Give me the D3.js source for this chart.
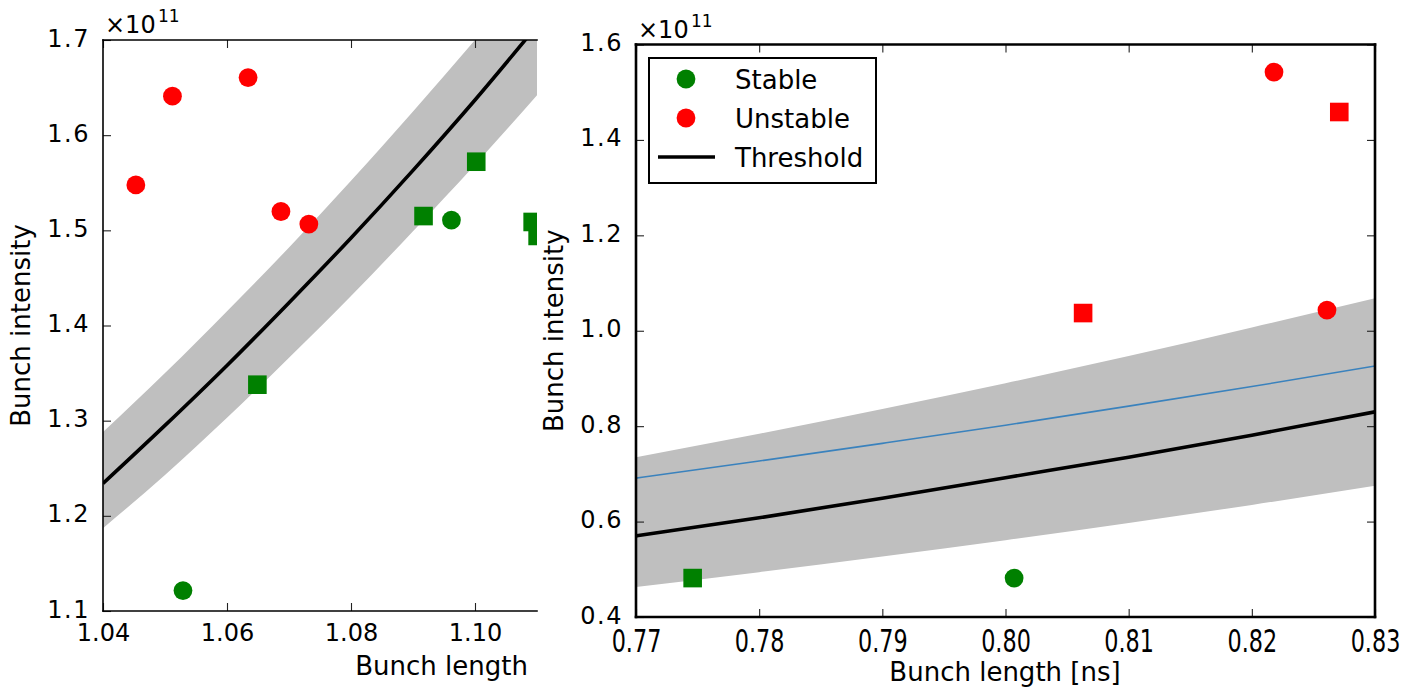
<!DOCTYPE html>
<html>
<head>
<meta charset="utf-8">
<script src="https://cdn.jsdelivr.net/npm/d3@7"></script>
<style>
  body { margin: 0; background: #fff; }
  text { font-family: "DejaVu Sans", sans-serif; fill: #000; }
</style>
</head>
<body>
<svg id="chart" width="1408" height="689"></svg>
<script>
// ---------- Left panel: intensity vs. bunch length ----------
const leftXTicks = [1.04, 1.06, 1.08, 1.10];
const leftYTicks = [1.1, 1.2, 1.3, 1.4, 1.5, 1.6, 1.7];
const leftStableCircles = [{x: 1.0529, y: 1.1215}, {x: 1.0962, y: 1.5108}];
const leftStableSquares = [
  {x: 1.0649, y: 1.3378}, {x: 1.0917, y: 1.5150}, {x: 1.1002, y: 1.5721},
  {x: 1.1093, y: 1.5088}, {x: 1.1101, y: 1.4941}
];
const leftUnstableCircles = [
  {x: 1.0453, y: 1.5477}, {x: 1.0512, y: 1.6410}, {x: 1.0634, y: 1.6605},
  {x: 1.0687, y: 1.5198}, {x: 1.0732, y: 1.5066}
];
const leftLength    = [1.04, 1.05, 1.06, 1.07, 1.08, 1.09, 1.10, 1.11];
const leftThreshold = [1.234, 1.295, 1.358, 1.424, 1.492, 1.563, 1.637, 1.715];
const leftUpper     = [1.288, 1.350, 1.415, 1.482, 1.552, 1.625, 1.700, 1.778];
const leftLower     = [1.187, 1.243, 1.303, 1.366, 1.431, 1.499, 1.569, 1.642];

// ---------- Right panel: intensity vs. bunch length [ns] ----------
const rightXTicks = [0.77, 0.78, 0.79, 0.80, 0.81, 0.82, 0.83];
const rightYTicks = [0.4, 0.6, 0.8, 1.0, 1.2, 1.4, 1.6];
const rightStableCircles = [{x: 0.8007, y: 0.4816}];
const rightStableSquares = [{x: 0.7746, y: 0.4816}];
const rightUnstableCircles = [{x: 0.8218, y: 1.5423}, {x: 0.8261, y: 1.0434}];
const rightUnstableSquares = [{x: 0.8063, y: 1.0371}, {x: 0.8271, y: 1.4585}];
const rightLength    = [0.77, 0.78, 0.79, 0.80, 0.81, 0.82, 0.83];
const rightThreshold = [0.570, 0.608, 0.649, 0.692, 0.735, 0.781, 0.830];
const rightModel     = [0.691, 0.727, 0.764, 0.802, 0.842, 0.883, 0.926];
const rightUpper     = [0.735, 0.784, 0.836, 0.890, 0.947, 1.007, 1.068];
const rightLower     = [0.463, 0.494, 0.527, 0.561, 0.597, 0.635, 0.675];

const legendLabels = ["Stable", "Unstable", "Threshold"];

const GREEN = "#008000", RED = "#ff0000", BAND = "#bfbfbf", MODEL = "#3a82bd";

const svg = d3.select("#chart");

function drawPanel(cfg) {
  const x = d3.scaleLinear().domain(cfg.xDomain).range([cfg.left, cfg.right]);
  const y = d3.scaleLinear().domain(cfg.yDomain).range([cfg.bottom, cfg.top]);
  const g = svg.append("g");

  const clipId = "clip-" + cfg.id;
  svg.append("clipPath").attr("id", clipId).append("rect")
    .attr("x", cfg.left).attr("y", cfg.top)
    .attr("width", cfg.right - cfg.left).attr("height", cfg.bottom - cfg.top);
  const plot = g.append("g").attr("clip-path", `url(#${clipId})`);

  // uncertainty band
  const area = d3.area()
    .x((d, i) => x(cfg.length[i]))
    .y0((d, i) => y(cfg.lower[i]))
    .y1((d, i) => y(cfg.upper[i]))
    .curve(d3.curveMonotoneX);
  plot.append("path").datum(cfg.length).attr("d", area).attr("fill", BAND);

  const line = vals => d3.line()
    .x((d, i) => x(cfg.length[i]))
    .y((d, i) => y(vals[i]))
    .curve(d3.curveMonotoneX)(vals);

  if (cfg.model) {
    plot.append("path").attr("d", line(cfg.model))
      .attr("fill", "none").attr("stroke", MODEL).attr("stroke-width", 1.6);
  }
  plot.append("path").attr("d", line(cfg.threshold))
    .attr("fill", "none").attr("stroke", "#000").attr("stroke-width", 3.6);

  // markers
  const r = 9.4, s = 18.6;
  const circles = (data, color) => plot.selectAll(null).data(data).enter().append("circle")
    .attr("cx", d => x(d.x)).attr("cy", d => y(d.y)).attr("r", r).attr("fill", color);
  const squares = (data, color) => plot.selectAll(null).data(data).enter().append("rect")
    .attr("x", d => x(d.x) - s / 2).attr("y", d => y(d.y) - s / 2)
    .attr("width", s).attr("height", s).attr("fill", color);
  circles(cfg.stableCircles, GREEN);
  squares(cfg.stableSquares, GREEN);
  circles(cfg.unstableCircles, RED);
  squares(cfg.unstableSquares, RED);

  // axes with inward ticks
  const tk = 8;
  const xb = g.append("g").attr("transform", `translate(0,${cfg.bottom})`)
    .call(d3.axisBottom(x).tickValues(cfg.xTicks).tickSize(-tk).tickPadding(13)
      .tickFormat(cfg.xFormat));
  const xt = g.append("g").attr("transform", `translate(0,${cfg.top})`)
    .call(d3.axisTop(x).tickValues(cfg.xTicks).tickSize(-tk).tickFormat(""));
  const yl = g.append("g").attr("transform", `translate(${cfg.left},0)`)
    .call(d3.axisLeft(y).tickValues(cfg.yTicks).tickSize(-tk).tickPadding(13)
      .tickFormat(cfg.yFormat));
  const axes = [xb, xt, yl];
  if (cfg.rightSpine) {
    axes.push(g.append("g").attr("transform", `translate(${cfg.right},0)`)
      .call(d3.axisRight(y).tickValues(cfg.yTicks).tickSize(-tk).tickFormat("")));
  }
  axes.forEach(a => {
    a.select(".domain").remove();
    a.selectAll(".tick line").attr("stroke", "#222").attr("stroke-width", 1.1);
    a.selectAll("text").style("font-size", "24px").style("font-family", "DejaVu Sans");
  });
  yl.selectAll("text").attr("dy", "0.25em").style("letter-spacing", "1.5px");
  if (cfg.tallXLabels) {
    xb.selectAll("text").attr("y", 0).attr("dy", 0)
      .attr("transform", "translate(0,35) scale(0.93,1.33)");
  }

  // spines
  const sw = cfg.spineWidth;
  const spine = (x1, y1, x2, y2) => g.append("line")
    .attr("x1", x1).attr("y1", y1).attr("x2", x2).attr("y2", y2)
    .attr("stroke", "#000").attr("stroke-width", sw).attr("stroke-linecap", "square");
  spine(cfg.left, cfg.top, cfg.left, cfg.bottom);
  spine(cfg.left, cfg.bottom, cfg.right, cfg.bottom);
  spine(cfg.left, cfg.top, cfg.right, cfg.top);
  if (cfg.rightSpine) spine(cfg.right, cfg.top, cfg.right, cfg.bottom);

  // axis labels
  g.append("text")
    .attr("transform", `translate(${cfg.yLabelX},${(cfg.top + cfg.bottom) / 2 + cfg.yLabelShift}) rotate(-90)`)
    .attr("text-anchor", "middle").style("font-size", "26px").text("Bunch intensity");
  g.append("text").attr("x", cfg.xLabelX).attr("y", cfg.xLabelY)
    .attr("text-anchor", cfg.xLabelAnchor).style("font-size", "26px").text(cfg.xLabel);

  // scale offset  ×10^11
  g.append("text").attr("x", cfg.left + 2).attr("y", cfg.top - 7)
    .style("font-size", "24px").text("\u00d710");
  g.append("text").attr("x", cfg.left + 55).attr("y", cfg.top - 18)
    .style("font-size", "17px").text("11");

  return {x, y};
}

drawPanel({
  id: "left", left: 103, right: 537, top: 40, bottom: 611,
  xDomain: [1.04, 1.11], yDomain: [1.1, 1.7],
  xTicks: leftXTicks, yTicks: leftYTicks,
  xFormat: d3.format(".2f"), yFormat: d3.format(".1f"),
  length: leftLength, threshold: leftThreshold, upper: leftUpper, lower: leftLower,
  stableCircles: leftStableCircles, stableSquares: leftStableSquares,
  unstableCircles: leftUnstableCircles, unstableSquares: [],
  rightSpine: false, spineWidth: 1.6,
  yLabelX: 30, yLabelShift: 0,
  xLabel: "Bunch length", xLabelX: 528, xLabelY: 675, xLabelAnchor: "end"
});

drawPanel({
  id: "right", left: 636, right: 1375, top: 44.5, bottom: 617,
  xDomain: [0.77, 0.83], yDomain: [0.4, 1.6],
  xTicks: rightXTicks, yTicks: rightYTicks,
  xFormat: d3.format(".2f"), yFormat: d3.format(".1f"),
  length: rightLength, threshold: rightThreshold, upper: rightUpper, lower: rightLower,
  model: rightModel,
  stableCircles: rightStableCircles, stableSquares: rightStableSquares,
  unstableCircles: rightUnstableCircles, unstableSquares: rightUnstableSquares,
  rightSpine: true, spineWidth: 2.6, tallXLabels: true,
  yLabelX: 563, yLabelShift: 0,
  xLabel: "Bunch length [ns]", xLabelX: 1005, xLabelY: 681, xLabelAnchor: "middle"
});

// legend
const legend = svg.append("g");
legend.append("rect").attr("x", 649).attr("y", 58).attr("width", 227).attr("height", 125)
  .attr("fill", "#fff").attr("stroke", "#000").attr("stroke-width", 2);
const rowY = [79, 118, 157];
legend.append("circle").attr("cx", 686).attr("cy", rowY[0]).attr("r", 9.4).attr("fill", GREEN);
legend.append("circle").attr("cx", 686).attr("cy", rowY[1]).attr("r", 9.4).attr("fill", RED);
legend.append("line").attr("x1", 658).attr("x2", 715).attr("y1", rowY[2]).attr("y2", rowY[2])
  .attr("stroke", "#000").attr("stroke-width", 3.6);
legend.selectAll("text.lbl").data(legendLabels).enter().append("text")
  .attr("class", "lbl").attr("x", 735).attr("y", (d, i) => rowY[i] + 9.5)
  .style("font-size", "26px").text(d => d);
</script>
</body>
</html>
